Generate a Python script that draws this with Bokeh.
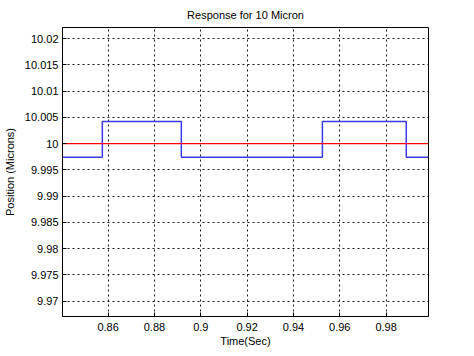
from bokeh.plotting import figure
from bokeh.models import FixedTicker, Range1d
from bokeh.embed import file_html
from bokeh.resources import INLINE

# Data
x_start, x_end = 0.8403, 0.9983
step_times = [0.8403, 0.8575, 0.8916, 0.9525, 0.9887, 0.9983]
step_positions = [9.9974, 10.0042, 9.9974, 10.0042, 9.9974, 9.9974]
reference_times = [x_start, x_end]
reference_positions = [10.0, 10.0]

x_ticks = [0.86, 0.88, 0.90, 0.92, 0.94, 0.96, 0.98]
x_labels = ["0.86", "0.88", "0.9", "0.92", "0.94", "0.96", "0.98"]
y_ticks = [10.02, 10.015, 10.01, 10.005, 10.0, 9.995, 9.99, 9.985, 9.98, 9.975, 9.97]
y_labels = ["10.02", "10.015", "10.01", "10.005", "10", "9.995", "9.99",
            "9.985", "9.98", "9.975", "9.97"]

FONT = "Liberation Sans"

p = figure(width=474, height=356, output_backend="svg", toolbar_location=None,
           x_range=Range1d(x_start, x_end), y_range=Range1d(9.9671, 10.0221),
           min_border_left=62, min_border_right=46, min_border_top=27,
           min_border_bottom=40, title="Response for 10 Micron")

p.background_fill_color = "white"
p.border_fill_color = "white"
p.outline_line_color = "black"
p.outline_line_width = 1

p.title.align = "center"
p.title.vertical_align = "top"
p.title.text_font = FONT
p.title.text_font_size = "11px"
p.title.text_font_style = "normal"
p.title.text_color = "black"

p.step(step_times, step_positions, mode="after", line_color="#3a3aea", line_width=1.5)
p.line(reference_times, reference_positions, line_color="#ff0000", line_width=1.2)

p.xaxis.ticker = FixedTicker(ticks=x_ticks)
p.yaxis.ticker = FixedTicker(ticks=y_ticks)
p.xaxis.major_label_overrides = {t: l for t, l in zip(x_ticks, x_labels)}
p.yaxis.major_label_overrides = {t: l for t, l in zip(y_ticks, y_labels)}

for ax in (p.xaxis, p.yaxis):
    ax.major_tick_in = 4
    ax.major_tick_out = 0
    ax.minor_tick_in = 0
    ax.minor_tick_out = 0
    ax.axis_line_color = "black"
    ax.major_tick_line_color = "black"
    ax.major_label_text_font = FONT
    ax.major_label_text_font_size = "11px"
    ax.major_label_text_color = "black"
    ax.axis_label_text_font = FONT
    ax.axis_label_text_font_size = "11px"
    ax.axis_label_text_font_style = "normal"
    ax.axis_label_text_color = "black"

p.xaxis.axis_label = "Time(Sec)"
p.yaxis.axis_label = "Position (Microns)"
p.xaxis.major_label_standoff = 6
p.yaxis.major_label_standoff = 4
p.xaxis.axis_label_standoff = 1
p.yaxis.axis_label_standoff = 6

for g in (p.xgrid, p.ygrid):
    g.grid_line_color = "black"
    g.grid_line_dash = "2 3"
    g.grid_line_width = 1
    g.grid_line_alpha = 0.9

open("out.html", "w").write(file_html(p, INLINE))
